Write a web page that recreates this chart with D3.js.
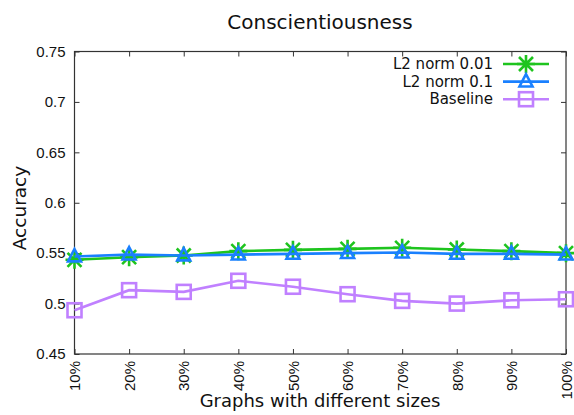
<!DOCTYPE html>
<html>
<head>
<meta charset="utf-8">
<script src="https://cdn.jsdelivr.net/npm/d3@7"></script>
<style>
  html, body { margin: 0; padding: 0; background: #fff; }
  svg { display: block; font-family: "DejaVu Sans", sans-serif; }
</style>
</head>
<body>
<svg id="chart" width="574" height="415"></svg>
<script>
// Data
const categories = ["10%", "20%", "30%", "40%", "50%", "60%", "70%", "80%", "90%", "100%"];
const l2norm001 = [0.5434, 0.546, 0.5477, 0.552, 0.5533, 0.5543, 0.5553, 0.5536, 0.552, 0.550];
const l2norm01 = [0.5467, 0.5486, 0.5477, 0.5486, 0.5493, 0.550, 0.5506, 0.5493, 0.5493, 0.5486];
const baseline = [0.4934, 0.5133, 0.5116, 0.5226, 0.5167, 0.5093, 0.5027, 0.500, 0.5033, 0.5043];
const yTicks = [0.45, 0.5, 0.55, 0.6, 0.65, 0.7, 0.75];
const yTickLabels = ["0.45", "0.5", "0.55", "0.6", "0.65", "0.7", "0.75"];

const series = [
  { name: "L2 norm 0.01", values: l2norm001, color: "#1ec41e", marker: "star" },
  { name: "L2 norm 0.1", values: l2norm01, color: "#1a80ff", marker: "triangle" },
  { name: "Baseline", values: baseline, color: "#c080ff", marker: "square" }
];

const W = 574, H = 415;
const margin = { left: 74.5, right: 8, top: 51.5, bottom: 61 };
const svg = d3.select("#chart");

const x = d3.scalePoint().domain(categories).range([margin.left, W - margin.right]);
const y = d3.scaleLinear().domain([0.45, 0.75]).range([H - margin.bottom, margin.top]);

const axisColor = "#333";
const tickLen = 5;
const tickFont = 15;

// Frame
svg.append("rect")
  .attr("x", margin.left).attr("y", margin.top)
  .attr("width", W - margin.right - margin.left)
  .attr("height", H - margin.bottom - margin.top)
  .attr("fill", "none").attr("stroke", axisColor).attr("stroke-width", 1.2);

// Y axis (left, ticks inward) and mirror on the right
const yAxis = d3.axisLeft(y).tickValues(yTicks)
  .tickFormat((d, i) => yTickLabels[i]).tickSizeInner(-tickLen).tickSizeOuter(0).tickPadding(9);
const gy = svg.append("g").attr("transform", `translate(${margin.left},0)`).call(yAxis);
gy.select(".domain").remove();
gy.selectAll("line").attr("stroke", axisColor);
gy.selectAll("text").attr("font-size", tickFont).attr("fill", "#111");

const gyr = svg.append("g").attr("transform", `translate(${W - margin.right},0)`)
  .call(d3.axisRight(y).tickValues(yTicks).tickSizeInner(-tickLen).tickSizeOuter(0).tickFormat(""));
gyr.select(".domain").remove();
gyr.selectAll("line").attr("stroke", axisColor);

// X axis (bottom, ticks inward, rotated labels) and mirror at the top
const gx = svg.append("g").attr("transform", `translate(0,${H - margin.bottom})`)
  .call(d3.axisBottom(x).tickSizeInner(-tickLen).tickSizeOuter(0).tickPadding(0));
gx.select(".domain").remove();
gx.selectAll("line").attr("stroke", axisColor);
gx.selectAll("text")
  .attr("font-size", tickFont).attr("fill", "#111")
  .attr("transform", "rotate(-90)")
  .attr("x", -7).attr("y", 0).attr("dy", "0.35em")
  .attr("text-anchor", "end");

const gxt = svg.append("g").attr("transform", `translate(0,${margin.top})`)
  .call(d3.axisTop(x).tickSizeInner(-tickLen).tickSizeOuter(0).tickFormat(""));
gxt.select(".domain").remove();
gxt.selectAll("line").attr("stroke", axisColor);

// Titles
svg.append("text").attr("x", 320).attr("y", 29).attr("text-anchor", "middle")
  .attr("font-size", 20).attr("fill", "#111").text("Conscientiousness");
svg.append("text").attr("x", 320).attr("y", 407).attr("text-anchor", "middle")
  .attr("font-size", 18).attr("fill", "#111").text("Graphs with different sizes");
svg.append("text").attr("transform", "translate(26,208) rotate(-90)").attr("text-anchor", "middle")
  .attr("font-size", 18.5).attr("fill", "#111").text("Accuracy");

// Marker drawing
function drawMarker(g, type, cx, cy, color) {
  if (type === "star") {
    const r = 9, d = 7;
    const p = `M${cx - r},${cy}L${cx + r},${cy}M${cx},${cy - r}L${cx},${cy + r}` +
      `M${cx - d},${cy - d}L${cx + d},${cy + d}M${cx - d},${cy + d}L${cx + d},${cy - d}`;
    g.append("path").attr("d", p).attr("stroke", color).attr("stroke-width", 2.6).attr("fill", "none");
  } else if (type === "triangle") {
    const s = 6.5;
    const p = `M${cx},${cy - s * 1.15}L${cx + s},${cy + s * 0.75}L${cx - s},${cy + s * 0.75}Z`;
    g.append("path").attr("d", p).attr("stroke", color).attr("stroke-width", 2.6).attr("fill", "none");
  } else {
    const s = 7;
    g.append("rect").attr("x", cx - s).attr("y", cy - s).attr("width", 2 * s).attr("height", 2 * s)
      .attr("stroke", color).attr("stroke-width", 2.6).attr("fill", "none");
  }
}

const line = d3.line().x((d, i) => x(categories[i])).y(d => y(d));

// Draw from back to front: baseline, L2 0.01, L2 0.1
const order = [2, 0, 1];
order.forEach(k => {
  const s = series[k];
  const g = svg.append("g");
  g.append("path").datum(s.values).attr("d", line)
    .attr("fill", "none").attr("stroke", s.color).attr("stroke-width", 2.6);
  s.values.forEach((v, i) => drawMarker(g, s.marker, x(categories[i]), y(v), s.color));
});

// Legend
const legX = 493, legY0 = 64, legDy = 17.6;
series.forEach((s, i) => {
  const yy = legY0 + i * legDy;
  const g = svg.append("g");
  g.append("text").attr("x", legX).attr("y", yy).attr("dy", "0.35em").attr("text-anchor", "end")
    .attr("font-size", 15).attr("fill", "#111").text(s.name);
  g.append("line").attr("x1", 503).attr("x2", 549).attr("y1", yy).attr("y2", yy)
    .attr("stroke", s.color).attr("stroke-width", 2.6);
  drawMarker(g, s.marker, 526, yy, s.color);
});
</script>
</body>
</html>
